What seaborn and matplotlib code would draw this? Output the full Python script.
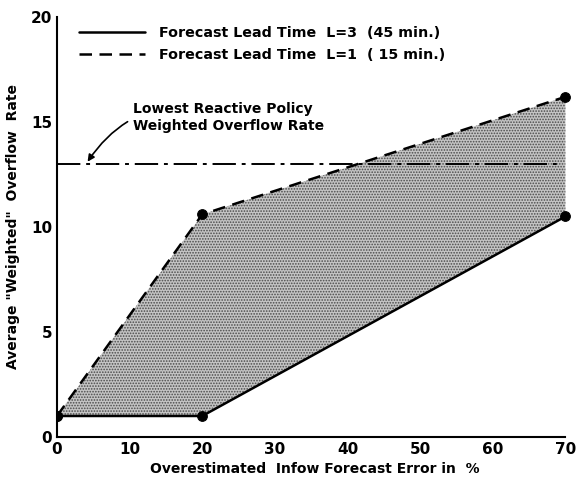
import matplotlib
matplotlib.use("Agg")
import matplotlib.pyplot as plt
import seaborn as sns
import pandas as pd
import numpy as np

# Data
error_pct = [0, 20, 70]
lead3_rate = [1.0, 1.0, 10.5]     # L=3 (45 min.) solid
lead1_rate = [1.0, 10.6, 16.2]    # L=1 (15 min.) dashed
reactive_x = [0, 69]
reactive_rate = [13.0, 13.0]
x_ticks = [0, 10, 20, 30, 40, 50, 60, 70]
y_ticks = [0, 5, 10, 15, 20]
y_ticklabels = ["0", "5", "10", "15", "20"]

sns.set_theme(style="white")
plt.rcParams['font.family'] = ['DejaVu Sans']
plt.rcParams['hatch.linewidth'] = 0.8
plt.rcParams['text.color'] = 'black'
plt.rcParams['axes.labelcolor'] = 'black'

df = pd.DataFrame({"err": error_pct * 2,
                   "rate": lead3_rate + lead1_rate,
                   "series": ["L3"] * 3 + ["L1"] * 3})

fig = plt.figure(figsize=(5.84, 4.82), dpi=100)
ax = fig.add_axes([0.0976, 0.0934, 0.883, 0.8713])

ax.fill_between(error_pct, lead3_rate, lead1_rate, facecolor="#c4c4c4",
                edgecolor="#4a4a4a", hatch="......", linewidth=0)

sns.lineplot(data=df[df.series == "L3"], x="err", y="rate",
             color="black", lw=1.8, ax=ax, label="Forecast Lead Time  L=3  (45 min.)",
             marker="o", markersize=7, markeredgecolor="black")
sns.lineplot(data=df[df.series == "L1"], x="err", y="rate",
             color="black", lw=1.8, ax=ax, label="Forecast Lead Time  L=1  ( 15 min.)",
             marker="o", markersize=7, markeredgecolor="black",
             linestyle=(0, (5, 3)))
ax.plot(reactive_x, reactive_rate, color="black", lw=1.4,
        linestyle=(0, (12, 3, 2, 3)))

ax.set_xlim(0, 71)
ax.set_ylim(0, 20)
ax.set_xticks(x_ticks)
ax.set_yticks(y_ticks)
ax.set_yticklabels(y_ticklabels)
for s in ["top", "right"]:
    ax.spines[s].set_visible(False)
for s in ["left", "bottom"]:
    ax.spines[s].set_color("black")
    ax.spines[s].set_linewidth(1.5)
ax.spines["bottom"].set_bounds(0, 70)
ax.tick_params(direction="in", length=5, width=1.5, colors="black",
               labelsize=11)
for lab in ax.get_xticklabels() + ax.get_yticklabels():
    lab.set_fontweight("bold")

ax.set_xlabel("Overestimated  Infow Forecast Error in  %", fontsize=10,
              fontweight="bold", labelpad=4)
ax.set_ylabel("Average \"Weighted\"  Overflow  Rate", fontsize=10,
              fontweight="bold", labelpad=8)

leg = ax.legend(loc="upper left", bbox_to_anchor=(0.018, 1.01), frameon=False,
                handlelength=4.6, fontsize=10.3, handletextpad=1.0,
                labelspacing=0.55)
for t in leg.get_texts():
    t.set_fontweight("bold")
    t.set_color("black")
for h in leg.legend_handles:
    h.set_marker("")

ax.annotate("Lowest Reactive Policy\nWeighted Overflow Rate",
            xy=(4.0, 13.0), xytext=(10.5, 14.5),
            fontsize=10, fontweight="bold", ha="left", va="bottom",
            arrowprops=dict(arrowstyle="-|>", color="black", lw=1.2,
                            connectionstyle="arc3,rad=0.4"))

fig.savefig("out.png", dpi=100)
